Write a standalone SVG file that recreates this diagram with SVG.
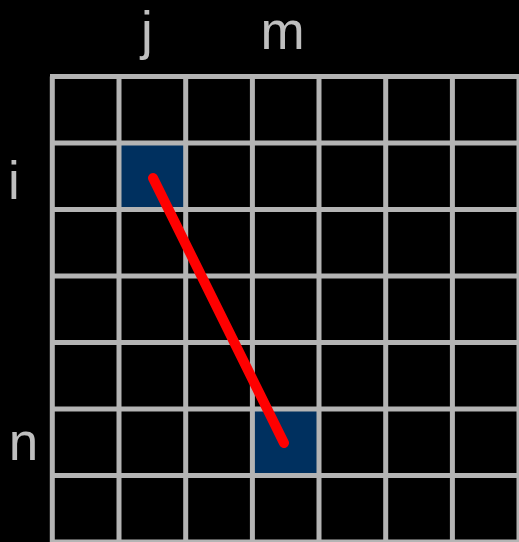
<svg xmlns="http://www.w3.org/2000/svg" width="519" height="542" viewBox="0 0 519 542">
<style>
.lbl{font-family:"Liberation Sans","Open Sans",sans-serif;font-size:53px;fill:#bfbfbf;text-anchor:middle}
.grid{stroke:#b4b4b4;stroke-width:5;fill:none}
.cell{fill:#00305f}
</style>
<rect width="519" height="542" fill="#000"/>
<g id="cells">
<rect class="cell" x="119" y="142.7" width="66.7" height="66.6"/>
<rect class="cell" x="252.4" y="409.2" width="66.7" height="66.6"/>
</g>
<g id="grid" class="grid">
<path d="M52.3 76.5V545M119 76.5V545M185.7 76.5V545M252.4 76.5V545M319 76.5V545M385.7 76.5V545M452.4 76.5V545M519 76.5V545"/>
<path d="M50 76.5H522M50 143H522M50 209.5H522M50 276H522M50 342.5H522M50 409H522M50 475.5H522M50 542H522"/>
</g>
<g id="labels">
<text class="lbl" x="147" y="48.5">j</text>
<text class="lbl" x="282.5" y="48.5">m</text>
<text class="lbl" x="14" y="199">i</text>
<text class="lbl" x="23.5" y="460">n</text>
</g>
<g id="connectors">
<line x1="153" y1="178" x2="284" y2="443" stroke="#ff0000" stroke-width="10" stroke-linecap="round"/>
</g>
</svg>
